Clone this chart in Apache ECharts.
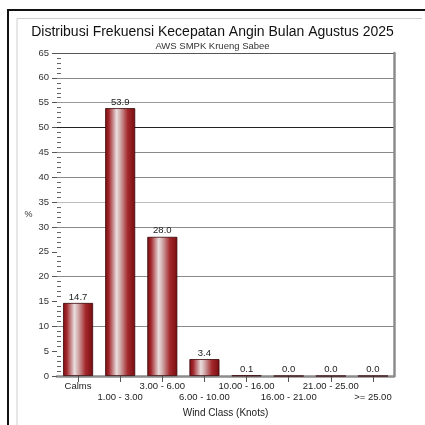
<!DOCTYPE html>
<html>
<head>
<meta charset="utf-8">
<script src="https://cdn.jsdelivr.net/npm/echarts@6/dist/echarts.min.js"></script>
<style>html,body{margin:0;padding:0;background:#fff}#c{width:425px;height:425px}</style>
</head>
<body>
<div id="c"></div>
<script>
const categories = ['Calms', '1.00 - 3.00', '3.00 - 6.00', '6.00 - 10.00', '10.00 - 16.00', '16.00 - 21.00', '21.00 - 25.00', '>= 25.00'];
const frequency = [14.7, 53.9, 28.0, 3.4, 0.1, 0.0, 0.0, 0.0];
const yTicks = [0, 5, 10, 15, 20, 25, 30, 35, 40, 45, 50, 55, 60, 65];
const titleText = 'Distribusi Frekuensi Kecepatan Angin Bulan Agustus 2025';
const subtitleText = 'AWS SMPK Krueng Sabee';

const FONT = 'Liberation Sans, Arial, sans-serif';
const gridColors = ['transparent', 'transparent', '#8a8a8a', 'transparent', '#8a8a8a', 'transparent',
  '#8a8a8a', '#bdbdbd', '#8a8a8a', '#8a8a8a', '#222', '#9a9a9a', '#8a8a8a', '#555'];

const chart = echarts.init(document.getElementById('c'), null, {renderer: 'canvas'});
const barGradient = new echarts.graphic.LinearGradient(0, 0, 1, 0, [
  {offset: 0, color: '#7a0e11'},
  {offset: 0.12, color: '#a0252a'},
  {offset: 0.38, color: '#eadede'},
  {offset: 0.5, color: '#d2acac'},
  {offset: 0.75, color: '#a3282c'},
  {offset: 1, color: '#780d10'}
]);
const yMin = yTicks[0], yMax = yTicks[yTicks.length - 1], yStep = yTicks[1] - yTicks[0];

chart.setOption({
  animation: false,
  backgroundColor: '#fff',
  title: [
    {text: titleText, left: 'center', top: 20, textStyle: {fontFamily: FONT, fontSize: 14, fontWeight: 'normal', color: '#111'}},
    {text: subtitleText, left: 'center', top: 36, textStyle: {fontFamily: FONT, fontSize: 9.5, fontWeight: 'normal', color: '#333'}}
  ],
  graphic: [
    {type: 'polyline', shape: {points: [[17, 440], [17, 18.5], [422, 18.5]]}, style: {stroke: '#cfcfcf', lineWidth: 1, fill: null}},
    {type: 'polyline', shape: {points: [[8, 440], [8, 10], [440, 10]]}, style: {stroke: '#111', lineWidth: 2, fill: null}}
  ],
  grid: {left: 57, right: 31, top: 53, bottom: 49, containLabel: false},
  xAxis: {
    type: 'category',
    data: categories,
    boundaryGap: true,
    axisLine: {show: true, lineStyle: {color: '#8c8c8c', width: 2.5}},
    axisTick: {show: true, alignWithLabel: true, length: 6, lineStyle: {color: '#555', width: 1}},
    axisLabel: {
      interval: 0, margin: 5, fontFamily: FONT, fontSize: 9.5, color: '#222', lineHeight: 11,
      formatter: function (v, i) { return i % 2 ? '\n' + v : v; }
    },
    name: 'Wind Class (Knots)', nameLocation: 'middle', nameGap: 28,
    nameTextStyle: {fontFamily: FONT, fontSize: 10, color: '#222'}
  },
  yAxis: [
    {
      type: 'value', min: yMin, max: yMax, interval: yStep, position: 'left',
      axisLine: {show: false},
      axisTick: {show: true, length: 5, lineStyle: {color: '#555'}},
      axisLabel: {margin: 8, fontFamily: FONT, fontSize: 9.5, color: '#333'},
      splitLine: {show: true, lineStyle: {color: gridColors, width: 1.2}},
      name: '%', nameLocation: 'middle', nameRotate: 0, nameGap: 22,
      nameTextStyle: {fontFamily: FONT, fontSize: 9, color: '#333'}
    },
    {
      type: 'value', min: yMin, max: yMax, interval: yStep, position: 'left', offset: 0,
      axisLine: {show: false},
      axisTick: {show: false, inside: true},
      minorTick: {show: true, splitNumber: 5, length: 4, lineStyle: {color: '#666', width: 1}},
      axisLabel: {show: false},
      splitLine: {show: false}
    },
    {
      type: 'value', min: yMin, max: yMax, interval: yStep, position: 'right',
      axisLine: {show: true, lineStyle: {color: '#8c8c8c', width: 2.5}},
      axisTick: {show: false},
      axisLabel: {show: false},
      splitLine: {show: false}
    }
  ],
  series: [{
    type: 'bar',
    yAxisIndex: 0,
    data: frequency,
    barWidth: 30,
    itemStyle: {color: barGradient, borderColor: '#3a0507', borderWidth: 0.8},
    label: {
      show: true, position: 'top', distance: 1,
      fontFamily: FONT, fontSize: 9.5, color: '#222',
      formatter: function (p) { return p.value.toFixed(1); }
    }
  }]
});
</script>
</body>
</html>
